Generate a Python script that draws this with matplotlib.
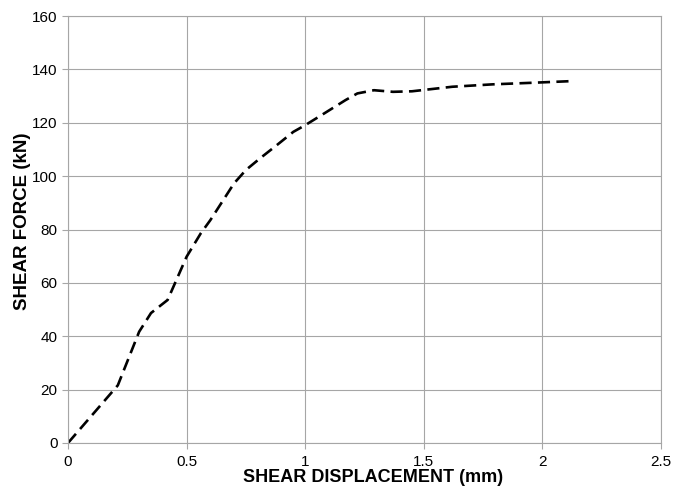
import matplotlib.pyplot as plt

# shear test: displacement (mm) vs force (kN)
displacement = [0.0, 0.21, 0.30, 0.35, 0.42, 0.50, 0.56, 0.60, 0.70, 0.75, 0.81, 0.88, 0.95,
                1.00, 1.08, 1.17, 1.22, 1.29, 1.37, 1.45, 1.62, 1.79, 1.96, 2.12]
force = [0.0, 21.6, 41.7, 48.7, 53.6, 69.8, 78.6, 83.5, 97.3, 102.3, 106.7, 111.6, 116.6,
         119.1, 123.5, 128.5, 131.0, 132.2, 131.6, 131.8, 133.5, 134.4, 135.0, 135.6]

x_ticks = [0, 0.5, 1, 1.5, 2, 2.5]
x_labels = ['0', '0.5', '1', '1.5', '2', '2.5']
y_ticks = [0, 20, 40, 60, 80, 100, 120, 140, 160]

plt.rcParams['font.family'] = ['Liberation Sans', 'DejaVu Sans']

fig = plt.figure(figsize=(6.86, 4.86), dpi=100)
ax = fig.add_axes([0.0991, 0.0885, 0.8645, 0.8785])

ax.plot(displacement, force, color='black', lw=1.9, dashes=(4.6, 2.4), solid_capstyle='butt')

ax.set_xlim(0, 2.5)
ax.set_ylim(0, 160)
ax.set_xticks(x_ticks)
ax.set_xticklabels(x_labels)
ax.set_yticks(y_ticks)
ax.grid(True, color='#a6a6a6', lw=0.8)
ax.set_axisbelow(True)
for s in ax.spines.values():
    s.set_color('#a6a6a6')
    s.set_linewidth(0.8)
ax.tick_params(colors='#a6a6a6', labelcolor='black', labelsize=11, length=4, width=0.8)
ax.tick_params(axis='x', pad=5)

ax.set_xlabel('SHEAR DISPLACEMENT (mm)', fontsize=13, fontweight='bold', va='baseline')
ax.set_ylabel('SHEAR FORCE (kN)', fontsize=13.5, fontweight='bold')
ax.xaxis.set_label_coords(0.514, -0.091)
ax.yaxis.set_label_coords(-0.062, 0.52)

fig.savefig('out.png', dpi=100)
